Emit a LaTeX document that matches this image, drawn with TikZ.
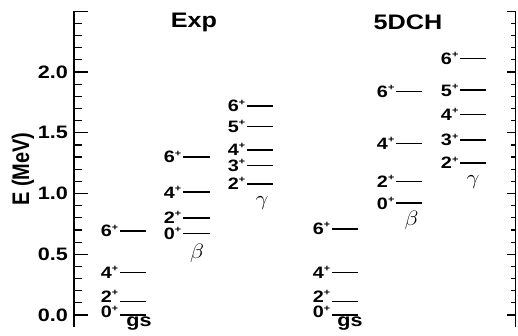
\documentclass[tikz,border=0pt]{standalone}
\usepackage{fontspec}
\setmainfont{Liberation Sans}[FakeStretch=1.2]
\newfontfamily\plainsf{Liberation Sans}
\newcommand\jp[1]{#1\raisebox{6.8pt}{\fontsize{9}{9}\selectfont +}}
\tikzset{
  lev/.style={line width=1.6pt},
  axisline/.style={line width=1.2pt},
  lab/.style={font=\fontsize{16.5}{16.5}\selectfont\bfseries, anchor=base east, inner sep=0pt, yshift=-5.8pt, xshift=-1.5pt},
  ticklab/.style={font=\fontsize{18}{18}\selectfont\bfseries, anchor=east, inner sep=0pt},
  ttl/.style={font=\fontsize{21}{21}\selectfont\bfseries, inner sep=0pt},
  bandlab/.style={font=\fontsize{18}{18}\selectfont\bfseries, inner sep=0pt},
  greek/.style={font=\fontsize{22}{22}\selectfont, inner sep=0pt},
}
\newcommand\lvl[5][0pt]{%
  \draw[lev] (#2,#4) -- (#3,#4);
  \node[lab, yshift=#1] at (#2,#4) {\jp{#5}};}
\begin{document}
\begin{tikzpicture}[x=1pt, y=121.5pt]
\useasboundingbox (0,-0.16461) rectangle (518,2.59259);
% left axis
\draw[axisline] (74,-0.1) -- (74,2.5);
\foreach \e in {0,0.5,...,2.5} \draw[axisline] (74,\e) -- (88,\e);
\foreach \e in {0.1,0.2,0.3,0.4,0.6,0.7,0.8,0.9,1.1,1.2,1.3,1.4,1.6,1.7,1.8,1.9,2.1,2.2,2.3,2.4}
  \draw[axisline] (74,\e) -- (82,\e);
% right axis
\draw[axisline] (515.5,-0.1) -- (515.5,2.5);
\foreach \e in {0,0.5,...,2.5} \draw[axisline] (515.5,\e) -- (506.5,\e);
\foreach \e in {0.1,0.2,0.3,0.4,0.6,0.7,0.8,0.9,1.1,1.2,1.3,1.4,1.6,1.7,1.8,1.9,2.1,2.2,2.3,2.4}
  \draw[axisline] (515.5,\e) -- (511,\e);
% tick labels
\node[ticklab] (t0) at (68,0) {0.0};
\node[ticklab] (t1) at (68,0.5) {0.5};
\node[ticklab] (t2) at (68,1.0) {1.0};
\node[ticklab] (t3) at (68,1.5) {1.5};
\node[ticklab] (t4) at (68,2.0) {2.0};
\node[inner sep=0pt, rotate=90] (ylab) at (23,1.20) {\scalebox{1}[1.2]{\plainsf\fontsize{20}{20}\selectfont\bfseries E (MeV)}};
% titles
\node[ttl] (exp) at (194,2.41) {Exp};
\node[ttl] (dch) at (408,2.41) {5DCH};
% Exp gs
\lvl[3pt]{120}{146}{0}{0}
\lvl[5pt]{120}{146}{0.11}{2}
\lvl{120}{146}{0.35}{4}
\lvl{120}{146}{0.69}{6}
\node[bandlab, anchor=north] (gs1) at ([yshift=-2pt]139,0) {gs};
% Exp beta
\lvl{183}{210}{0.67}{0}
\lvl{183}{210}{0.80}{2}
\lvl{183}{210}{1.01}{4}
\lvl{183}{210}{1.30}{6}
\node[greek] (b1) at (197,0.51) {\scalebox{1.1}[1]{$\beta$}};
% Exp gamma
\lvl{247}{273}{1.08}{2}
\lvl{247}{273}{1.23}{3}
\lvl{247}{273}{1.36}{4}
\lvl{247}{273}{1.55}{5}
\lvl{247}{273}{1.72}{6}
\node[greek] (g1) at (262,0.92) {\scalebox{1.1}[1]{$\gamma$}};
% 5DCH gs
\lvl[3pt]{332}{358}{0}{0}
\lvl[5pt]{332}{358}{0.11}{2}
\lvl{332}{358}{0.35}{4}
\lvl{332}{358}{0.71}{6}
\node[bandlab, anchor=north] (gs2) at ([yshift=-2pt]350,0) {gs};
% 5DCH beta
\lvl{396}{422}{0.92}{0}
\lvl{396}{422}{1.10}{2}
\lvl{396}{422}{1.41}{4}
\lvl{396}{422}{1.84}{6}
\node[greek] (b2) at (411.5,0.78) {\scalebox{1.1}[1]{$\beta$}};
% 5DCH gamma
\lvl{460}{486}{1.25}{2}
\lvl{460}{486}{1.44}{3}
\lvl{460}{486}{1.65}{4}
\lvl{460}{486}{1.85}{5}
\lvl{460}{486}{2.11}{6}
\node[greek] (g2) at (473,1.095) {\scalebox{1.1}[1]{$\gamma$}};
\end{tikzpicture}
\end{document}
